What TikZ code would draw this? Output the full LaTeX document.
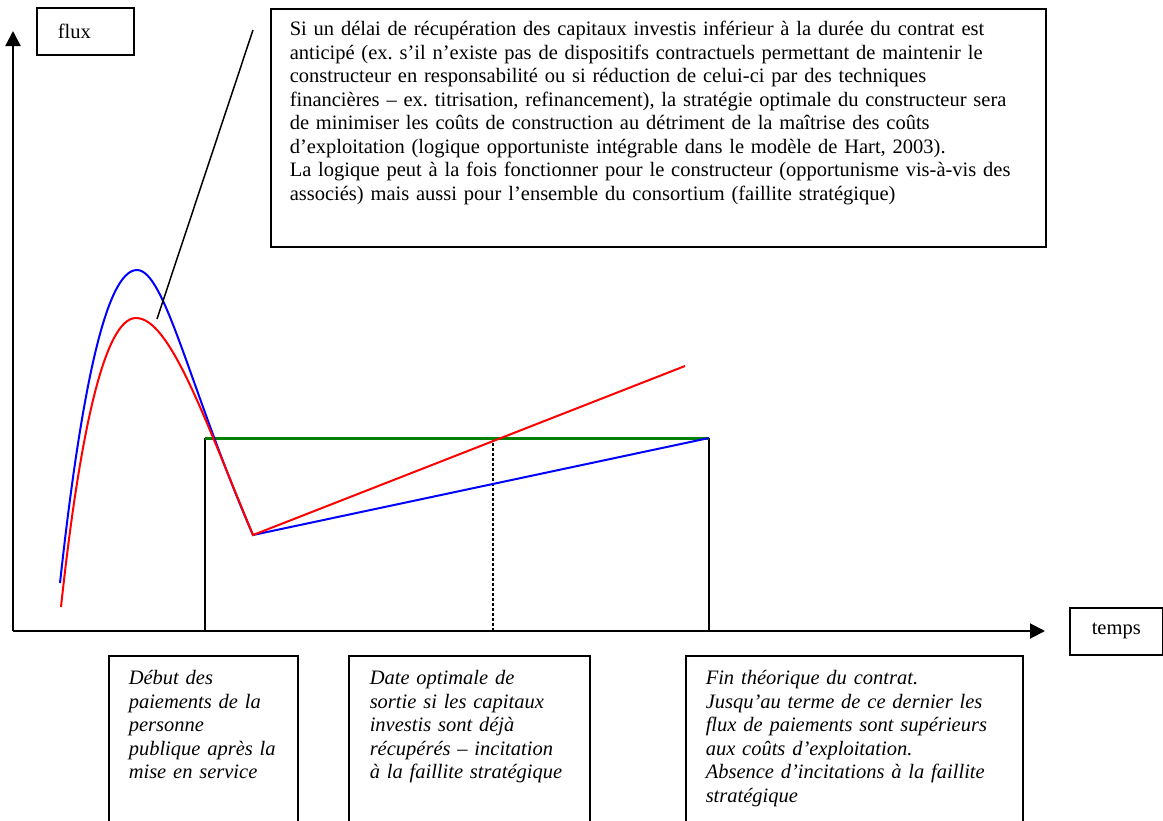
\documentclass[tikz,border=0pt]{standalone}
\usepackage{fontspec}
\setmainfont{Liberation Serif}
\usetikzlibrary{arrows.meta}
\frenchspacing
\tikzset{
  txt/.style={font=\fontsize{20.5}{23.5}\selectfont},
  itxt/.style={font=\fontsize{20.5}{23.5}\selectfont\itshape},
  box/.style={txt,draw,line width=1.5pt,anchor=north west,align=left},
  note/.style={box,inner xsep=20pt,inner ysep=13pt,text height=16pt,text depth=200pt},
  curve/.style={line width=2pt},
  axis/.style={line width=2pt,-{Triangle[length=15pt,width=15pt]}}
}
\begin{document}
\begin{tikzpicture}[x=1pt,y=-1pt]
        \useasboundingbox (0,0) rectangle (1163,820);
        \clip (0,0) rectangle (1163,820);

        \coordinate (O) at (13,631);
        \coordinate (ytop) at (13,31);
        \coordinate (xend) at (1045,631);
        \coordinate (B0) at (205,631);
        \coordinate (G1) at (205,438);
        \coordinate (E0) at (709,631);
        \coordinate (G2) at (709,438);
        \coordinate (M0) at (493,631);
        \coordinate (M) at (493,438);
        \coordinate (V) at (253,535);
        \coordinate (R) at (685,366);
        \coordinate (ptA) at (253,30);
        \coordinate (ptB) at (157,319);

        \node[box,inner xsep=21pt,text width=55pt,minimum height=47pt] (flux) at (36,7) {flux};
        \node[box,minimum width=93pt,minimum height=47pt,align=center] (temps) at (1069,607) {temps};

        \node[note,inner xsep=19pt,text width=737pt,text height=14pt,text depth=198pt] (hyp) at (270,8) {%
            Si un délai de récupération des capitaux investis inférieur à la durée du contrat est\\
            anticipé (ex. s’il n’existe pas de dispositifs contractuels permettant de maintenir le\\
            constructeur en responsabilité ou si réduction de celui-ci par des techniques\\
            financières – ex. titrisation, refinancement), la stratégie optimale du constructeur sera\\
            de minimiser les coûts de construction au détriment de la maîtrise des coûts\\
            d’exploitation (logique opportuniste intégrable dans le modèle de Hart, 2003).\\
            La logique peut à la fois fonctionner pour le constructeur (opportunisme vis-à-vis des\\
            associés) mais aussi pour l’ensemble du consortium (faillite stratégique)};

        \node[note,itxt,text width=149pt] (debut) at (108,655) {%
            Début des\\ paiements de la\\ personne\\ publique après la\\ mise en service};
        \node[note,itxt,inner xsep=21pt,text width=199pt] (sortie) at (348,655) {%
            Date optimale de\\ sortie si les capitaux\\ investis sont déjà\\
            récupérés – incitation\\ à la faillite stratégique};
        \node[note,itxt,text width=297pt] (fin) at (685,655) {%
            Fin théorique du contrat.\\ Jusqu’au terme de ce dernier les\\
            flux de paiements sont supérieurs\\ aux coûts d’exploitation.\\
            Absence d’incitations à la faillite\\ stratégique};

        \draw[axis] (O) -- (ytop);
        \draw[axis] (O) -- (xend);

        \draw[line width=1.5pt] (B0) -- (G1);
        \draw[line width=1.5pt] (E0) -- (G2);
        \draw[line width=2pt,dash pattern=on 3pt off 2pt] (M0) -- (M);
        \draw[green!50!black,line width=3pt] (G1) -- (G2);

        \draw[blue,curve] (60,583) .. controls (80,400) and (105,270) .. (137,270)
            .. controls (165,270) and (190,390) .. (V) -- (G2);
        \draw[red,curve] (61,607) .. controls (80,430) and (105,318) .. (136,318)
            .. controls (170,318) and (205,420) .. (V) -- (R);

        \draw[line width=1.5pt] (ptA) -- (ptB);
    \end{tikzpicture}
\end{document}
